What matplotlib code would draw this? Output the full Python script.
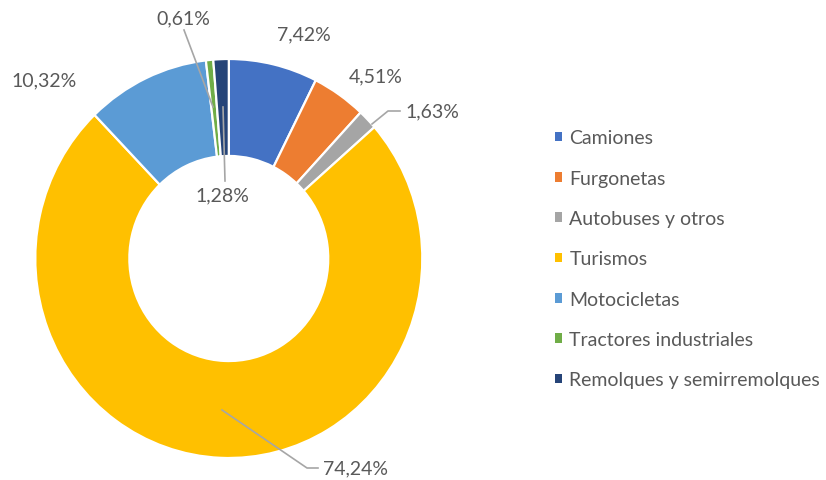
import matplotlib.pyplot as plt
from matplotlib.patches import Patch

categories = ['Camiones', 'Furgonetas', 'Autobuses y otros', 'Turismos',
              'Motocicletas', 'Tractores industriales', 'Remolques y semirremolques']
shares = [7.42, 4.51, 1.63, 74.24, 10.32, 0.61, 1.28]
labels = ['7,42%', '4,51%', '1,63%', '74,24%', '10,32%', '0,61%', '1,28%']
colors = ['#4472C4', '#ED7D31', '#A5A5A5', '#FFC000', '#5B9BD5', '#70AD47', '#264478']

plt.rcParams['font.family'] = ['Lato', 'DejaVu Sans']
text_color = '#595959'
line_color = '#A6A6A6'

W, H = 826, 481
fig = plt.figure(figsize=(W / 100, H / 100), dpi=100)

# pie centre and radii in pixels (from top-left); the original is slightly stretched vertically
cx, cy, Rx, Ry = 228.8, 259.5, 193.5, 199.5
lim = 1.1
bw, bh = 2 * Rx * lim, 2 * Ry * lim
ax = fig.add_axes([(cx - bw / 2) / W, (H - cy - bh / 2) / H, bw / W, bh / H])

wedges, _ = ax.pie(shares, colors=colors, startangle=90, counterclock=False,
                   radius=1.0, wedgeprops=dict(width=0.486, edgecolor='white', linewidth=1.6))
ax.set_xlim(-lim, lim)
ax.set_ylim(-lim, lim)
ax.set_aspect('auto')
ax.axis('off')


def px(x, y):
    return ((x - cx) / Rx, (cy - y) / Ry)


# label positions (pixel coords), optional leader line points
label_pos = [
    (px(304, 35), None),
    (px(376, 77), None),
    (px(432, 112), [px(372, 125), px(388, 112), px(400, 112)]),
    (px(356, 469), [px(222, 411), px(307, 469), px(318, 469)]),
    (px(44, 81), None),
    (px(183, 19), [px(213, 108), px(184, 31)]),
    (px(222, 196), [px(223, 108), px(225, 182)]),
]

for lab, (pos, lead) in zip(labels, label_pos):
    if lead:
        xs = [p[0] for p in lead]
        ys = [p[1] for p in lead]
        ax.plot(xs, ys, color=line_color, linewidth=1.2, clip_on=False, zorder=3)
    ax.text(pos[0], pos[1], lab, ha='center', va='center', fontsize=14,
            color=text_color, clip_on=False, zorder=4)

handles = [Patch(facecolor=c, edgecolor='none') for c in colors]
fig.legend(handles, categories, loc='center left',
           bbox_to_anchor=(555 / W, (H - 260) / H), frameon=False,
           fontsize=14, labelcolor=text_color, handlelength=0.37, handleheight=0.37,
           handletextpad=0.37, labelspacing=1.2, borderpad=0, borderaxespad=0)

plt.savefig('out.png', dpi=100, facecolor='white')
